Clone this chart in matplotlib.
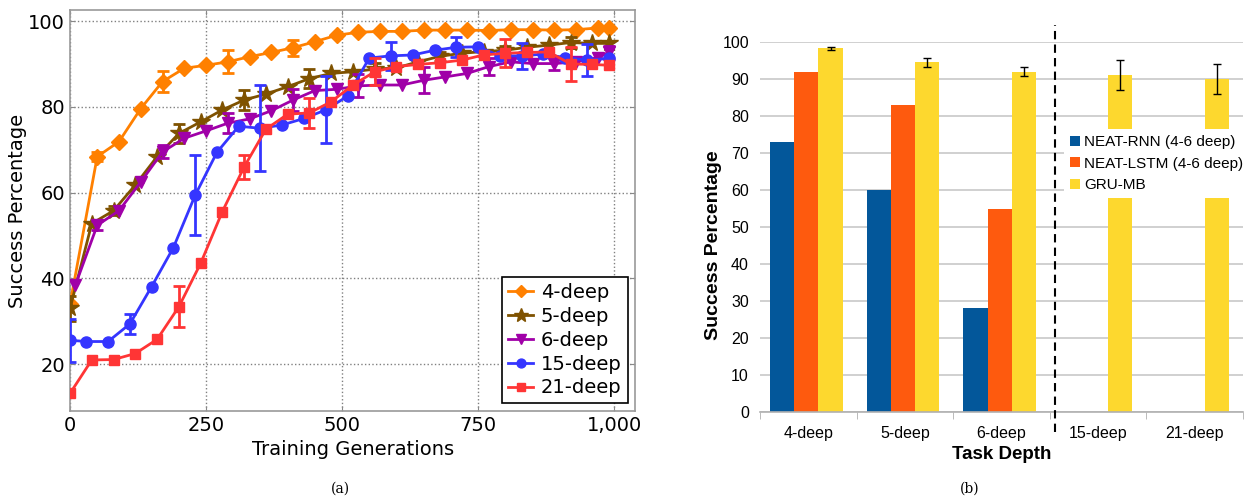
import numpy as np
import matplotlib.pyplot as plt

# ---- (a) curvas de aprendizaje ----
x_4deep = [0, 50, 90, 130, 170, 210, 250, 290, 330, 370, 410, 450, 490,
           530, 570, 610, 650, 690, 730, 770, 810, 850, 890, 930, 970, 990]
y_4deep = [34.0, 68.4, 71.9, 79.6, 85.9, 89.0, 89.7, 90.5, 91.7, 92.7, 93.8, 95.2, 96.7,
           97.4, 97.6, 97.6, 97.9, 97.9, 97.9, 97.8, 98.0, 98.0, 97.9, 98.0, 98.4, 98.4]
ex_4deep = [50, 170, 290, 410]
e_4deep = [1.0, 2.5, 2.7, 1.9]

x_5deep = [0, 40, 80, 120, 160, 200, 240, 280, 320, 360, 400, 440, 480,
           520, 560, 600, 640, 680, 720, 760, 800, 840, 880, 920, 960, 990]
y_5deep = [33.0, 52.8, 55.8, 61.8, 68.4, 73.8, 76.5, 79.3, 81.6, 83.0, 84.7, 86.6, 87.8,
           88.2, 88.8, 89.1, 90.5, 91.8, 92.5, 92.9, 93.2, 93.9, 94.4, 95.0, 94.8, 94.8]
ex_5deep = [0, 80, 200, 320, 440, 560, 680, 800, 920]
e_5deep = [3.0, 1.0, 2.3, 2.3, 2.2, 1.5, 1.0, 1.0, 1.2]

x_6deep = [10, 50, 90, 130, 170, 210, 250, 290, 330, 370, 410, 450, 490,
           530, 570, 610, 650, 690, 730, 770, 810, 850, 890, 930, 970, 990]
y_6deep = [38.5, 52.4, 55.8, 62.5, 69.5, 72.7, 74.4, 76.2, 77.2, 79.1, 81.6, 83.8, 84.1,
           84.9, 85.1, 85.1, 86.2, 87.0, 87.8, 89.4, 90.5, 90.1, 90.1, 90.5, 91.5, 92.7]
ex_6deep = [50, 170, 290, 410, 530, 650, 770, 890, 990]
e_6deep = [1.0, 1.5, 2.3, 2.5, 2.7, 3.0, 2.0, 1.6, 1.5]

x_15deep = [0, 30, 70, 110, 150, 190, 230, 270, 310, 350, 390, 430, 470,
            510, 550, 590, 630, 670, 710, 750, 790, 830, 870, 910, 950, 990]
y_15deep = [25.6, 25.3, 25.3, 29.4, 38.1, 47.2, 59.4, 69.4, 75.5, 75.0, 75.8, 77.3, 79.3,
            82.5, 91.4, 91.9, 92.1, 93.2, 93.9, 94.0, 91.9, 91.9, 92.3, 91.5, 90.9, 91.3]
ex_15deep = [0, 110, 230, 350, 470, 590, 710, 830, 950]
e_15deep = [5.0, 2.4, 9.3, 10.0, 7.8, 3.2, 2.3, 3.0, 3.8]

x_21deep = [0, 40, 80, 120, 160, 200, 240, 280, 320, 360, 400, 440, 480,
            520, 560, 600, 640, 680, 720, 760, 800, 840, 880, 920, 960, 990]
y_21deep = [13.2, 21.0, 21.1, 22.5, 25.8, 33.4, 43.5, 55.6, 66.0, 74.8, 78.3, 78.6, 81.2,
            85.1, 88.2, 89.4, 89.9, 90.3, 90.9, 92.1, 92.5, 92.7, 92.8, 90.0, 89.9, 89.7]
ex_21deep = [200, 320, 440, 560, 800, 920]
e_21deep = [4.8, 2.7, 3.5, 3.2, 3.3, 4.0]

# ---- (b) barras ----
tareas = ['4-deep', '5-deep', '6-deep', '15-deep', '21-deep']
neat_rnn = [73, 60, 28, 0, 0]
neat_lstm = [92, 83, 55, 0, 0]
gru_mb = [98.3, 94.5, 92.0, 91.0, 90.0]
gru_err = [0.4, 1.3, 1.3, 4.0, 4.0]

fig = plt.figure(figsize=[12.48, 4.97], dpi=100)

ax = fig.add_axes([0.0561, 0.173, 0.4530, 0.807])
series = [
    ('4-deep', x_4deep, y_4deep, ex_4deep, e_4deep, '#ff8000', 'D', 8),
    ('5-deep', x_5deep, y_5deep, ex_5deep, e_5deep, '#7f5200', '*', 13),
    ('6-deep', x_6deep, y_6deep, ex_6deep, e_6deep, '#a000a8', 'v', 9),
    ('15-deep', x_15deep, y_15deep, ex_15deep, e_15deep, '#3535ff', 'o', 8),
    ('21-deep', x_21deep, y_21deep, ex_21deep, e_21deep, '#ff3535', 's', 7),
]
for nombre, xs, ys, exs, es, col, mk, ms in series:
    ax.plot(xs, ys, color=col, marker=mk, markersize=ms, lw=2, label=nombre, zorder=3)
    ye = [ys[xs.index(v)] for v in exs] #y en los puntos con barra de error
    ax.errorbar(exs, ye, yerr=es, fmt='none', ecolor=col, elinewidth=2,
                capsize=4, capthick=2, zorder=3)

ax.set_xlim(0, 1039)
ax.set_ylim(9.1, 102.6)
ax.set_xticks([0, 250, 500, 750, 1000])
ax.set_xticklabels(['0', '250', '500', '750', '1,000'])
ax.set_yticks([20, 40, 60, 80, 100])
ax.grid(True, linestyle=':', color='#808080', lw=1)
ax.tick_params(direction='in', top=True, right=True, labelsize=14, color='#888888')
for s in ax.spines.values():
    s.set_color('#999999')
    s.set_linewidth(1.2)
ax.set_xlabel('Training Generations', fontsize=14, labelpad=4)
ax.set_ylabel('Success Percentage', fontsize=14, labelpad=1)
leg = ax.legend(loc='lower right', fontsize=14, fancybox=False, edgecolor='black',
                framealpha=1, handlelength=1.3, labelspacing=0.25, markerscale=0.8,
                borderaxespad=0.4, handletextpad=0.4, borderpad=0.3)
leg.get_frame().set_linewidth(1.2)

# ---- panel (b) ----
bx = fig.add_axes([0.609, 0.171, 0.387, 0.7445])
pos = np.arange(len(tareas))
w = 0.25
bx.bar(pos - 0.27, neat_rnn, w, color='#03579a', label='NEAT-RNN (4-6 deep)', zorder=2)
bx.bar(pos - 0.02, neat_lstm, w, color='#fe5a0e', label='NEAT-LSTM (4-6 deep)', zorder=2)
bx.bar(pos + 0.23, gru_mb, w, color='#fdd82e', label='GRU-MB', zorder=2)
bx.errorbar(pos + 0.23, gru_mb, yerr=gru_err, fmt='none', ecolor='black',
            elinewidth=1, capsize=3, capthick=1, zorder=3)

bx.set_xlim(-0.5, 4.5)
bx.set_ylim(0, 100)
bx.set_yticks(range(0, 101, 10))
bx.set_xticks(pos)
bx.set_xticklabels(tareas, fontsize=11.5, family='Liberation Sans')
bx.set_xticks(np.arange(-0.5, 4.6, 1), minor=True)
bx.tick_params(axis='x', which='major', length=0, pad=10)
bx.tick_params(axis='x', which='minor', length=5, color='#b0b0b0')
bx.tick_params(axis='y', length=0, labelsize=11.5, pad=8)
for lab in bx.get_yticklabels():
    lab.set_family('Liberation Sans')
bx.yaxis.grid(True, color='#c8c8c8', lw=1.2, zorder=0)
bx.set_axisbelow(True)
for k in ['left', 'right', 'top']:
    bx.spines[k].set_visible(False)
bx.spines['bottom'].set_color('#b0b0b0')
bx.spines['bottom'].set_linewidth(1.2)

bx.plot([2.55, 2.55], [-5.5, 104.6], color='black', lw=1.5, ls=(0, (4, 2.5)),
        clip_on=False, zorder=4)

bx.set_xlabel('Task Depth', fontsize=13.5, fontweight='bold', family='Liberation Sans',
              labelpad=4)
bx.set_ylabel('Success Percentage', fontsize=14, fontweight='bold', family='Liberation Sans')
bx.yaxis.set_label_coords(-0.078, 0.45)

bleg = bx.legend(loc='upper left', bbox_to_anchor=(0.63, 0.765), borderaxespad=0,
                 prop={'family': 'Liberation Sans', 'size': 11}, frameon=True,
                 facecolor='white', edgecolor='none', framealpha=1, fancybox=False,
                 handlelength=0.6, handleheight=0.6, handletextpad=0.3, labelspacing=0.5)

fig.text(0.2725, 0.008, '(a)', ha='center', family='DejaVu Serif', fontsize=10)
fig.text(0.777, 0.008, '(b)', ha='center', family='DejaVu Serif', fontsize=10)

plt.savefig('out.png', dpi=100)
